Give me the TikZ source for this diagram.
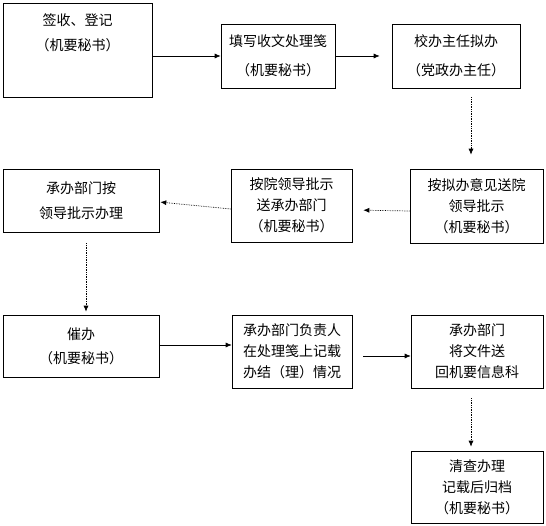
\documentclass[tikz,border=0pt]{standalone}
\usepackage{fontspec}
\newfontfamily\cjk{Noto Sans CJK SC}
\usetikzlibrary{arrows.meta, calc}

\tikzset{
  stepbox/.style={draw=black, line width=0.6pt, inner sep=0pt, align=center,
    font=\cjk\fontsize{14}{21}\selectfont},
  flow/.style={-{Latex[length=6pt,width=5pt]}, line width=0.7pt},
  dotflow/.style={flow, densely dotted}
}

\begin{document}
\begin{tikzpicture}[x=1pt, y=-1pt]
\useasboundingbox (0,0) rectangle (546,526);

% ============================================================
% 第一行：签收 -> 处理笺 -> 拟办
% ============================================================
\node[stepbox, minimum width=149pt, minimum height=94pt] (sign) at (77.5,50) {};
\node[stepbox, draw=none] (signtxt) at (77.5,32.5) {签收、登记\\[4pt]（机要秘书）};
\node[stepbox, minimum width=114pt, minimum height=64pt] (slip) at (278,56)
  {填写收文处理笺\\[8pt]（机要秘书）};
\node[stepbox, minimum width=128pt, minimum height=64pt] (draft) at (456,56)
  {校办主任拟办\\[8pt]（党政办主任）};

\draw[flow] (sign.east |- slip.west) -- (slip.west);
\draw[flow, shorten >=12pt] (slip.east) -- (draft.west);

% ============================================================
% 第二行：送院领导批示 -> 送承办部门 -> 承办部门办理
% ============================================================
\node[stepbox, minimum width=133pt, minimum height=74pt] (submit) at (476.5,206)
  {按拟办意见送院\\领导批示\\（机要秘书）};
\node[stepbox, minimum width=121pt, minimum height=73pt] (deliver) at (291.5,205.5)
  {按院领导批示\\送承办部门\\（机要秘书）};
\node[stepbox, minimum width=156pt, minimum height=63pt] (handle) at (81,200.5)
  {承办部门按\\[4pt]领导批示办理};

\draw[dotflow, shorten <=9pt, shorten >=14pt]
  ([xshift=15pt]draft.south) -- ([xshift=-5.5pt]submit.north);
\draw[dotflow, shorten >=11pt] ([yshift=-5pt]submit.west) -- ([yshift=-4.5pt]deliver.east);
\draw[dotflow, shorten >=1pt] ([yshift=-3.5pt]deliver.west) -- ([yshift=-1.5pt]handle.east);

% ============================================================
% 第三行：催办 -> 记载办结情况 -> 送回机要信息科
% ============================================================
\node[stepbox, minimum width=156pt, minimum height=62pt] (urge) at (81,346)
  {催办\\[3pt]（机要秘书）};
\node[stepbox, minimum width=120pt, minimum height=73pt] (record) at (292,351.5)
  {承办部门负责人\\在处理笺上记载\\办结（理）情况};
\node[stepbox, minimum width=132pt, minimum height=73pt] (back) at (477,351.5)
  {承办部门\\将文件送\\回机要信息科};

\draw[dotflow, shorten <=11pt, shorten >=3pt]
  ([xshift=5pt]handle.south) -- ([xshift=5pt]urge.north);
\draw[flow, line width=0.6pt] ([yshift=1pt]urge.east) -- ([yshift=1pt]urge.east -| record.west);
\draw[flow, line width=0.6pt, shorten <=11pt] ([yshift=-4.5pt]record.east) -- ([yshift=-4.5pt]back.west);

% ============================================================
% 归档
% ============================================================
\node[stepbox, minimum width=132pt, minimum height=72pt] (file) at (477,487)
  {清查办理\\记载后归档\\（机要秘书）};

\draw[dotflow, shorten <=10pt, shorten >=4pt]
  ([xshift=-6pt]back.south) -- ([xshift=-6pt]file.north);

\end{tikzpicture}
\end{document}
